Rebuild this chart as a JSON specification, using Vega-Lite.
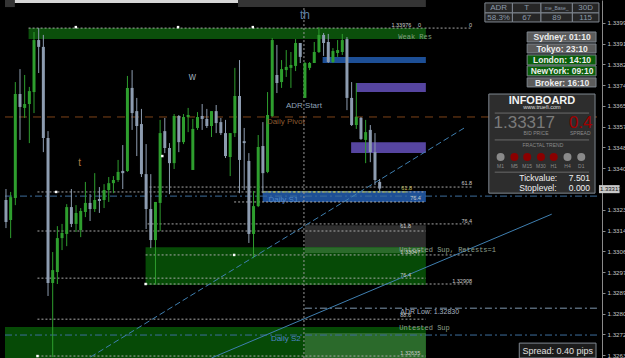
{
"$schema": "https://vega.github.io/schema/vega-lite/v6.json",
"width": 602, "height": 358,
"autosize": {"type": "none"}, "padding": {"left": 0, "top": 0, "right": 23, "bottom": 0},
"background": "#000000",
"config": {"view": {"stroke": null}, "font": "Liberation Sans"},
"resolve": {"scale": {"color": "independent"}, "axis": {"y": "independent"}},
"layer": [
{"data": {"values": [{"x1":-0.21,"x2":1.9,"p1":1.34089,"p2":1.3406,"k":"dark"},{"x1":1.9,"x2":49.68,"p1":1.34089,"p2":1.34077,"k":"light"},{"x1":49.68,"x2":89.89,"p1":1.34089,"p2":1.3406,"k":"dark"}]},
 "mark": {"type": "rect"},
 "encoding": {
  "x": {"field": "x1", "type": "quantitative", "scale": {"domain": [-0.21, 126.53], "nice": false, "zero": false}, "axis": null},
  "x2": {"field": "x2"},
  "y": {"field": "p1", "type": "quantitative", "scale": {"domain": [1.32623, 1.34089], "nice": false, "zero": false},
        "axis": {"orient": "right", "values": [1.33995,1.3391,1.33825,1.3374,1.33655,1.3357,1.33485,1.334,1.3323,1.33145,1.3306,1.32975,1.3289,1.32805,1.3272,1.32635], "format": ".5f", "labelFontSize": 6.2, "labelColor": "#c4c4c4", "domainColor": "#8a8a8a", "tickColor": "#8a8a8a", "tickSize": 3, "labelPadding": 2, "grid": false, "title": null, "labelOverlap": false, "labelBound": false, "labelFlush": false}},
  "y2": {"field": "p2"},
  "color": {"field": "k", "type": "nominal", "scale": {"domain": ["dark","light"], "range": ["#343434","#d6d6d6"]}, "legend": null}}},
{"data": {"values": [
  {"x1":4.84,"x2":89.89,"p1":1.33974,"p2":1.33929,"k":"res"},
  {"x1":67.79,"x2":89.89,"p1":1.33856,"p2":1.33831,"k":"blue"},
  {"x1":74.95,"x2":89.89,"p1":1.33749,"p2":1.33712,"k":"purple"},
  {"x1":73.89,"x2":89.89,"p1":1.33507,"p2":1.33462,"k":"purple"},
  {"x1":54.95,"x2":89.89,"p1":1.33307,"p2":1.33262,"k":"blue"},
  {"x1":64.0,"x2":89.89,"p1":1.33167,"p2":1.33077,"k":"gray"},
  {"x1":29.89,"x2":89.89,"p1":1.33077,"p2":1.32922,"k":"sup"},
  {"x1":64.0,"x2":89.89,"p1":1.33077,"p2":1.33053,"k":"suplight"},
  {"x1":-0.21,"x2":89.89,"p1":1.3275,"p2":1.32623,"k":"sup"},
  {"x1":64.0,"x2":89.89,"p1":1.32725,"p2":1.32623,"k":"suplight"}]},
 "mark": {"type": "rect"},
 "encoding": {
  "x": {"field": "x1", "type": "quantitative", "scale": {"domain": [-0.21, 126.53], "nice": false, "zero": false}, "axis": null},
  "x2": {"field": "x2"},
  "y": {"field": "p1", "type": "quantitative", "scale": {"domain": [1.32623, 1.34089], "nice": false, "zero": false}, "axis": null},
  "y2": {"field": "p2"},
  "color": {"field": "k", "type": "nominal", "scale": {"domain": ["res","blue","purple","gray","sup","suplight"], "range": ["#0b4f0b","#1d4f96","#5645a0","#2e2e2e","#064a06","#2b6a2b"]}, "legend": null}}},
{"data": {"values": [
  {"x1":4.84,"x2":99.79,"p":1.33974},{"x1":30.74,"x2":99.79,"p":1.33323},{"x1":6.74,"x2":89.89,"p":1.33303},
  {"x1":48.84,"x2":89.89,"p":1.33262},{"x1":30.32,"x2":99.79,"p":1.33172},{"x1":6.74,"x2":89.89,"p":1.33143},
  {"x1":29.89,"x2":99.79,"p":1.33045},{"x1":6.74,"x2":89.89,"p":1.3295},{"x1":29.89,"x2":99.79,"p":1.32926},
  {"x1":6.74,"x2":89.89,"p":1.32782},{"x1":6.74,"x2":89.89,"p":1.32631}]},
 "mark": {"type": "rule", "color": "#a8a8a8", "strokeDash": [2,2], "strokeWidth": 1},
 "encoding": {
  "x": {"field": "x1", "type": "quantitative", "scale": {"domain": [-0.21, 126.53], "nice": false, "zero": false}, "axis": null},
  "x2": {"field": "x2"},
  "y": {"field": "p", "type": "quantitative", "scale": {"domain": [1.32623, 1.34089], "nice": false, "zero": false}, "axis": null}}},
{"data": {"values": [{"x1":54.95,"x2":86.11,"p":1.33303}]},
 "mark": {"type": "rule", "color": "#c9cf3c", "strokeDash": [3,2], "strokeWidth": 1},
 "encoding": {
  "x": {"field": "x1", "type": "quantitative", "scale": {"domain": [-0.21, 126.53], "nice": false, "zero": false}, "axis": null},
  "x2": {"field": "x2"},
  "y": {"field": "p", "type": "quantitative", "scale": {"domain": [1.32623, 1.34089], "nice": false, "zero": false}, "axis": null}}},
{"data": {"values": [{"x1":-0.21,"x2":126.53,"p":1.3361}]},
 "mark": {"type": "rule", "color": "#7d4218", "strokeDash": [8,6], "strokeWidth": 1},
 "encoding": {
  "x": {"field": "x1", "type": "quantitative", "scale": {"domain": [-0.21, 126.53], "nice": false, "zero": false}, "axis": null},
  "x2": {"field": "x2"},
  "y": {"field": "p", "type": "quantitative", "scale": {"domain": [1.32623, 1.34089], "nice": false, "zero": false}, "axis": null}}},
{"data": {"values": [{"x1":-0.21,"x2":126.53,"p":1.33286},{"x1":-0.21,"x2":126.53,"p":1.32717}]},
 "mark": {"type": "rule", "color": "#3d6e9c", "strokeDash": [7,3,2,3], "strokeWidth": 1},
 "encoding": {
  "x": {"field": "x1", "type": "quantitative", "scale": {"domain": [-0.21, 126.53], "nice": false, "zero": false}, "axis": null},
  "x2": {"field": "x2"},
  "y": {"field": "p", "type": "quantitative", "scale": {"domain": [1.32623, 1.34089], "nice": false, "zero": false}, "axis": null}}},
{"data": {"values": [{"x1":64.0,"x2":126.53,"p":1.32827}]},
 "mark": {"type": "rule", "color": "#7e98b0", "strokeDash": [7,3,2,3], "strokeWidth": 1},
 "encoding": {
  "x": {"field": "x1", "type": "quantitative", "scale": {"domain": [-0.21, 126.53], "nice": false, "zero": false}, "axis": null},
  "x2": {"field": "x2"},
  "y": {"field": "p", "type": "quantitative", "scale": {"domain": [1.32623, 1.34089], "nice": false, "zero": false}, "axis": null}}},
{"data": {"values": [{"x":63.79,"p1":1.34056,"p2":1.32623}]},
 "mark": {"type": "rule", "color": "#9a9a9a", "strokeDash": [2,2], "strokeWidth": 1},
 "encoding": {
  "x": {"field": "x", "type": "quantitative", "scale": {"domain": [-0.21, 126.53], "nice": false, "zero": false}, "axis": null},
  "y": {"field": "p1", "type": "quantitative", "scale": {"domain": [1.32623, 1.34089], "nice": false, "zero": false}, "axis": null},
  "y2": {"field": "p2"}}},
{"data": {"values": [{"x1":18.11,"p1":1.32627,"x2":98.11,"p2":1.33565}]},
 "mark": {"type": "rule", "color": "#3f7fb0", "strokeDash": [6,3], "strokeWidth": 1},
 "encoding": {
  "x": {"field": "x1", "type": "quantitative", "scale": {"domain": [-0.21, 126.53], "nice": false, "zero": false}, "axis": null},
  "x2": {"field": "x2"},
  "y": {"field": "p1", "type": "quantitative", "scale": {"domain": [1.32623, 1.34089], "nice": false, "zero": false}, "axis": null},
  "y2": {"field": "p2"}}},
{"data": {"values": [{"x1":44.0,"p1":1.32623,"x2":116.84,"p2":1.33212}]},
 "mark": {"type": "rule", "color": "#3f7fb0", "strokeWidth": 1},
 "encoding": {
  "x": {"field": "x1", "type": "quantitative", "scale": {"domain": [-0.21, 126.53], "nice": false, "zero": false}, "axis": null},
  "x2": {"field": "x2"},
  "y": {"field": "p1", "type": "quantitative", "scale": {"domain": [1.32623, 1.34089], "nice": false, "zero": false}, "axis": null},
  "y2": {"field": "p2"}}},
{"data": {"name": "candles"},
 "mark": {"type": "rule", "strokeWidth": 1},
 "encoding": {
  "x": {"field": "i", "type": "quantitative", "scale": {"domain": [-0.21, 126.53], "nice": false, "zero": false}, "axis": null},
  "y": {"field": "l", "type": "quantitative", "scale": {"domain": [1.32623, 1.34089], "nice": false, "zero": false}, "axis": null},
  "y2": {"field": "h"},
  "color": {"field": "d", "type": "nominal", "scale": {"domain": ["u","d"], "range": ["#2e9e2e","#8d9cb0"]}, "legend": null}}},
{"data": {"name": "candles"},
 "mark": {"type": "bar", "width": 3},
 "encoding": {
  "x": {"field": "i", "type": "quantitative", "scale": {"domain": [-0.21, 126.53], "nice": false, "zero": false}, "axis": null},
  "y": {"field": "o", "type": "quantitative", "scale": {"domain": [1.32623, 1.34089], "nice": false, "zero": false}, "axis": null},
  "y2": {"field": "c"},
  "color": {"field": "d", "type": "nominal", "scale": {"domain": ["u","d"], "range": ["#2e9e2e","#8d9cb0"]}, "legend": null}}},
{"data": {"values": [{"x":14.95,"p":1.33978},{"x":36.84,"p":1.33978},{"x":52.84,"p":1.33978},{"x":10.74,"p":1.33303},{"x":6.74,"p":1.32631},{"x":33.47,"p":1.3345},{"x":48.84,"p":1.33045},{"x":29.89,"p":1.32926}]},
 "mark": {"type": "point", "shape": "square", "filled": true, "size": 6, "color": "#ffffff", "opacity": 1},
 "encoding": {
  "x": {"field": "x", "type": "quantitative", "scale": {"domain": [-0.21, 126.53], "nice": false, "zero": false}, "axis": null},
  "y": {"field": "p", "type": "quantitative", "scale": {"domain": [1.32623, 1.34089], "nice": false, "zero": false}, "axis": null}}},
{"data": {"values": [{"x":64.0,"p":1.34028,"t":"th"}]},
 "mark": {"type": "text", "fontSize": 12, "color": "#5a7fa5", "align": "center", "baseline": "middle"},
 "encoding": {
  "x": {"field": "x", "type": "quantitative", "scale": {"domain": [-0.21, 126.53], "nice": false, "zero": false}, "axis": null},
  "y": {"field": "p", "type": "quantitative", "scale": {"domain": [1.32623, 1.34089], "nice": false, "zero": false}, "axis": null},
  "text": {"field": "t"}}},
{"data": {"values": [{"x":39.9,"p":1.33774,"t":"w"}]},
 "mark": {"type": "text", "fontSize": 10, "color": "#9aa8b8", "align": "center", "baseline": "middle"},
 "encoding": {
  "x": {"field": "x", "type": "quantitative", "scale": {"domain": [-0.21, 126.53], "nice": false, "zero": false}, "axis": null},
  "y": {"field": "p", "type": "quantitative", "scale": {"domain": [1.32623, 1.34089], "nice": false, "zero": false}, "axis": null},
  "text": {"field": "t"}}},
{"data": {"values": [{"x":15.79,"p":1.33421,"t":"t"}]},
 "mark": {"type": "text", "fontSize": 10, "color": "#b07a40", "align": "center", "baseline": "middle"},
 "encoding": {
  "x": {"field": "x", "type": "quantitative", "scale": {"domain": [-0.21, 126.53], "nice": false, "zero": false}, "axis": null},
  "y": {"field": "p", "type": "quantitative", "scale": {"domain": [1.32623, 1.34089], "nice": false, "zero": false}, "axis": null},
  "text": {"field": "t"}}},
{"data": {"values": [{"x":63.79,"p":1.33655,"t":"ADR Start"}]},
 "mark": {"type": "text", "fontSize": 8, "color": "#8ea2b8", "align": "center", "baseline": "middle"},
 "encoding": {
  "x": {"field": "x", "type": "quantitative", "scale": {"domain": [-0.21, 126.53], "nice": false, "zero": false}, "axis": null},
  "y": {"field": "p", "type": "quantitative", "scale": {"domain": [1.32623, 1.34089], "nice": false, "zero": false}, "axis": null},
  "text": {"field": "t"}}},
{"data": {"values": [{"x":59.9,"p":1.33589,"t":"Daily Pivot"}]},
 "mark": {"type": "text", "fontSize": 8, "color": "#8b5a30", "align": "center", "baseline": "middle"},
 "encoding": {
  "x": {"field": "x", "type": "quantitative", "scale": {"domain": [-0.21, 126.53], "nice": false, "zero": false}, "axis": null},
  "y": {"field": "p", "type": "quantitative", "scale": {"domain": [1.32623, 1.34089], "nice": false, "zero": false}, "axis": null},
  "text": {"field": "t"}}},
{"data": {"values": [{"x":59.4,"p":1.3327,"t":"Daily S1"},{"x":59.9,"p":1.327,"t":"Daily S2"}]},
 "mark": {"type": "text", "fontSize": 8, "color": "#4f86c6", "align": "center", "baseline": "middle"},
 "encoding": {
  "x": {"field": "x", "type": "quantitative", "scale": {"domain": [-0.21, 126.53], "nice": false, "zero": false}, "axis": null},
  "y": {"field": "p", "type": "quantitative", "scale": {"domain": [1.32623, 1.34089], "nice": false, "zero": false}, "axis": null},
  "text": {"field": "t"}}},
{"data": {"values": [{"x":84.0,"p":1.33937,"t":"Weak Res"}]},
 "mark": {"type": "text", "fontSize": 7, "font": "Liberation Mono", "color": "#7fa07f", "align": "left", "baseline": "middle"},
 "encoding": {
  "x": {"field": "x", "type": "quantitative", "scale": {"domain": [-0.21, 126.53], "nice": false, "zero": false}, "axis": null},
  "y": {"field": "p", "type": "quantitative", "scale": {"domain": [1.32623, 1.34089], "nice": false, "zero": false}, "axis": null},
  "text": {"field": "t"}}},
{"data": {"values": [{"x":84.21,"p":1.33067,"t":"Untested Sup, Retests=1"},{"x":84.21,"p":1.32746,"t":"Untested Sup"}]},
 "mark": {"type": "text", "fontSize": 7, "font": "Liberation Mono", "color": "#8fa08f", "align": "left", "baseline": "middle"},
 "encoding": {
  "x": {"field": "x", "type": "quantitative", "scale": {"domain": [-0.21, 126.53], "nice": false, "zero": false}, "axis": null},
  "y": {"field": "p", "type": "quantitative", "scale": {"domain": [1.32623, 1.34089], "nice": false, "zero": false}, "axis": null},
  "text": {"field": "t"}}},
{"data": {"values": [{"x":82.53,"p":1.33987,"t":"1.33976"},{"x":88.21,"p":1.33987,"t":"0"},{"x":86.53,"p":1.33278,"t":"76.4"},{"x":84.42,"p":1.33163,"t":"61.8"},{"x":84.42,"p":1.33057,"t":"1.33047"},{"x":84.42,"p":1.32963,"t":"76.4"},{"x":84.42,"p":1.32799,"t":"88.6"},{"x":84.42,"p":1.32643,"t":"1.32635"}]},
 "mark": {"type": "text", "fontSize": 5.5, "color": "#cccccc", "align": "left", "baseline": "middle"},
 "encoding": {
  "x": {"field": "x", "type": "quantitative", "scale": {"domain": [-0.21, 126.53], "nice": false, "zero": false}, "axis": null},
  "y": {"field": "p", "type": "quantitative", "scale": {"domain": [1.32623, 1.34089], "nice": false, "zero": false}, "axis": null},
  "text": {"field": "t"}}},
{"data": {"values": [{"x":99.79,"p":1.33987,"t":"0"},{"x":99.79,"p":1.33339,"t":"61.8"},{"x":99.79,"p":1.33184,"t":"76.4"},{"x":99.79,"p":1.32938,"t":"1.32908"}]},
 "mark": {"type": "text", "fontSize": 5.5, "color": "#cccccc", "align": "right", "baseline": "middle"},
 "encoding": {
  "x": {"field": "x", "type": "quantitative", "scale": {"domain": [-0.21, 126.53], "nice": false, "zero": false}, "axis": null},
  "y": {"field": "p", "type": "quantitative", "scale": {"domain": [1.32623, 1.34089], "nice": false, "zero": false}, "axis": null},
  "text": {"field": "t"}}},
{"data": {"values": [{"x":84.63,"p":1.33319,"t":"61.8"}]},
 "mark": {"type": "text", "fontSize": 5.5, "color": "#c8c060", "align": "left", "baseline": "middle"},
 "encoding": {
  "x": {"field": "x", "type": "quantitative", "scale": {"domain": [-0.21, 126.53], "nice": false, "zero": false}, "axis": null},
  "y": {"field": "p", "type": "quantitative", "scale": {"domain": [1.32623, 1.34089], "nice": false, "zero": false}, "axis": null},
  "text": {"field": "t"}}},
{"data": {"values": [{"x":84.42,"p":1.32811,"t":"ADR Low: 1.32830"}]},
 "mark": {"type": "text", "fontSize": 7, "color": "#a8b4c0", "align": "left", "baseline": "middle"},
 "encoding": {
  "x": {"field": "x", "type": "quantitative", "scale": {"domain": [-0.21, 126.53], "nice": false, "zero": false}, "axis": null},
  "y": {"field": "p", "type": "quantitative", "scale": {"domain": [1.32623, 1.34089], "nice": false, "zero": false}, "axis": null},
  "text": {"field": "t"}}},
{"data": {"values": [
  {"x1":102.53,"x2":108.42,"p1":1.34077,"p2":1.34036,"k":"cell"},{"x1":108.42,"x2":114.53,"p1":1.34077,"p2":1.34036,"k":"cell"},{"x1":114.53,"x2":121.26,"p1":1.34077,"p2":1.34036,"k":"cell"},{"x1":121.26,"x2":126.95,"p1":1.34077,"p2":1.34036,"k":"cell"},
  {"x1":102.53,"x2":108.42,"p1":1.34036,"p2":1.33999,"k":"cell"},{"x1":108.42,"x2":114.53,"p1":1.34036,"p2":1.33999,"k":"cell"},{"x1":114.53,"x2":121.26,"p1":1.34036,"p2":1.33999,"k":"cell"},{"x1":121.26,"x2":126.95,"p1":1.34036,"p2":1.33999,"k":"cell"},
  {"x1":111.58,"x2":126.32,"p1":1.33958,"p2":1.33917,"k":"sgray"},{"x1":111.58,"x2":126.32,"p1":1.33909,"p2":1.33872,"k":"sgray"},{"x1":111.58,"x2":126.32,"p1":1.33864,"p2":1.33823,"k":"sgreen"},{"x1":111.58,"x2":126.32,"p1":1.33819,"p2":1.33778,"k":"sgreen"},{"x1":111.58,"x2":126.32,"p1":1.3377,"p2":1.33733,"k":"sgray"},
  {"x1":103.37,"x2":126.11,"p1":1.33704,"p2":1.33298,"k":"info"},
  {"x1":109.89,"x2":126.32,"p1":1.32684,"p2":1.32623,"k":"spread"}]},
 "mark": {"type": "rect", "stroke": "#7f8790", "strokeWidth": 1},
 "encoding": {
  "x": {"field": "x1", "type": "quantitative", "scale": {"domain": [-0.21, 126.53], "nice": false, "zero": false}, "axis": null},
  "x2": {"field": "x2"},
  "y": {"field": "p1", "type": "quantitative", "scale": {"domain": [1.32623, 1.34089], "nice": false, "zero": false}, "axis": null},
  "y2": {"field": "p2"},
  "color": {"field": "k", "type": "nominal", "scale": {"domain": ["cell","sgray","sgreen","info","spread"], "range": ["#262626","#5c5c5c","#0a5f0a","#2d2d2d","#1c1c1c"]}, "legend": null}}},
{"data": {"values": [{"x1":126.95,"x2":131.37,"p1":1.33331,"p2":1.33298}]},
 "mark": {"type": "rect", "color": "#c8c8c8"},
 "encoding": {
  "x": {"field": "x1", "type": "quantitative", "scale": {"domain": [-0.21, 126.53], "nice": false, "zero": false}, "axis": null},
  "x2": {"field": "x2"},
  "y": {"field": "p1", "type": "quantitative", "scale": {"domain": [1.32623, 1.34089], "nice": false, "zero": false}, "axis": null},
  "y2": {"field": "p2"}}},
{"data": {"values": [{"x1":104.63,"x2":124.84,"p":1.33626},{"x1":104.63,"x2":124.84,"p":1.33516},{"x1":104.63,"x2":124.84,"p":1.33384}]},
 "mark": {"type": "rule", "color": "#6a6a6a", "strokeWidth": 1},
 "encoding": {
  "x": {"field": "x1", "type": "quantitative", "scale": {"domain": [-0.21, 126.53], "nice": false, "zero": false}, "axis": null},
  "x2": {"field": "x2"},
  "y": {"field": "p", "type": "quantitative", "scale": {"domain": [1.32623, 1.34089], "nice": false, "zero": false}, "axis": null}}},
{"data": {"values": [{"x":105.89,"p":1.33446},{"x":120.21,"p":1.33446},{"x":123.16,"p":1.33446}]},
 "mark": {"type": "point", "shape": "circle", "filled": true, "size": 64, "color": "#8a8a8a", "opacity": 1},
 "encoding": {
  "x": {"field": "x", "type": "quantitative", "scale": {"domain": [-0.21, 126.53], "nice": false, "zero": false}, "axis": null},
  "y": {"field": "p", "type": "quantitative", "scale": {"domain": [1.32623, 1.34089], "nice": false, "zero": false}, "axis": null}}},
{"data": {"values": [{"x":108.84,"p":1.33446},{"x":111.58,"p":1.33446},{"x":114.53,"p":1.33446},{"x":117.26,"p":1.33446}]},
 "mark": {"type": "point", "shape": "circle", "filled": true, "size": 64, "color": "#8b0000", "opacity": 1},
 "encoding": {
  "x": {"field": "x", "type": "quantitative", "scale": {"domain": [-0.21, 126.53], "nice": false, "zero": false}, "axis": null},
  "y": {"field": "p", "type": "quantitative", "scale": {"domain": [1.32623, 1.34089], "nice": false, "zero": false}, "axis": null}}},
{"data": {"values": [{"x":105.47,"p":1.34056,"t":"ADR"},{"x":111.47,"p":1.34056,"t":"T"},{"x":124.1,"p":1.34056,"t":"30D"},{"x":105.47,"p":1.34017,"t":"58.3%"},{"x":111.47,"p":1.34017,"t":"67"},{"x":117.9,"p":1.34017,"t":"89"},{"x":124.1,"p":1.34017,"t":"115"}]},
 "mark": {"type": "text", "fontSize": 8, "color": "#8b99aa", "align": "center", "baseline": "middle"},
 "encoding": {
  "x": {"field": "x", "type": "quantitative", "scale": {"domain": [-0.21, 126.53], "nice": false, "zero": false}, "axis": null},
  "y": {"field": "p", "type": "quantitative", "scale": {"domain": [1.32623, 1.34089], "nice": false, "zero": false}, "axis": null},
  "text": {"field": "t"}}},
{"data": {"values": [{"x":117.9,"p":1.34056,"t":"me_Base_"}]},
 "mark": {"type": "text", "fontSize": 5, "color": "#8b99aa", "align": "center", "baseline": "middle"},
 "encoding": {
  "x": {"field": "x", "type": "quantitative", "scale": {"domain": [-0.21, 126.53], "nice": false, "zero": false}, "axis": null},
  "y": {"field": "p", "type": "quantitative", "scale": {"domain": [1.32623, 1.34089], "nice": false, "zero": false}, "axis": null},
  "text": {"field": "t"}}},
{"data": {"values": [{"x":119.05,"p":1.33937,"t":"Sydney: 01:10"},{"x":119.05,"p":1.3389,"t":"Tokyo: 23:10"},{"x":119.05,"p":1.33843,"t":"London: 14:10"},{"x":119.05,"p":1.33798,"t":"NewYork: 09:10"},{"x":119.05,"p":1.33751,"t":"Broker: 16:10"}]},
 "mark": {"type": "text", "fontSize": 8.5, "fontWeight": "bold", "color": "#ececec", "align": "center", "baseline": "middle"},
 "encoding": {
  "x": {"field": "x", "type": "quantitative", "scale": {"domain": [-0.21, 126.53], "nice": false, "zero": false}, "axis": null},
  "y": {"field": "p", "type": "quantitative", "scale": {"domain": [1.32623, 1.34089], "nice": false, "zero": false}, "axis": null},
  "text": {"field": "t"}}},
{"data": {"values": [{"x":114.74,"p":1.33675,"t":"INFOBOARD"}]},
 "mark": {"type": "text", "fontSize": 11, "fontWeight": "bold", "color": "#f2f2f2", "align": "center", "baseline": "middle"},
 "encoding": {
  "x": {"field": "x", "type": "quantitative", "scale": {"domain": [-0.21, 126.53], "nice": false, "zero": false}, "axis": null},
  "y": {"field": "p", "type": "quantitative", "scale": {"domain": [1.32623, 1.34089], "nice": false, "zero": false}, "axis": null},
  "text": {"field": "t"}}},
{"data": {"values": [{"x":114.74,"p":1.33649,"t":"www.truefi.com"}]},
 "mark": {"type": "text", "fontSize": 5.5, "color": "#dddddd", "align": "center", "baseline": "middle"},
 "encoding": {
  "x": {"field": "x", "type": "quantitative", "scale": {"domain": [-0.21, 126.53], "nice": false, "zero": false}, "axis": null},
  "y": {"field": "p", "type": "quantitative", "scale": {"domain": [1.32623, 1.34089], "nice": false, "zero": false}, "axis": null},
  "text": {"field": "t"}}},
{"data": {"values": [{"x":110.95,"p":1.33585,"t":"1.33317"}]},
 "mark": {"type": "text", "fontSize": 17, "color": "#7a7a7a", "align": "center", "baseline": "middle"},
 "encoding": {
  "x": {"field": "x", "type": "quantitative", "scale": {"domain": [-0.21, 126.53], "nice": false, "zero": false}, "axis": null},
  "y": {"field": "p", "type": "quantitative", "scale": {"domain": [1.32623, 1.34089], "nice": false, "zero": false}, "axis": null},
  "text": {"field": "t"}}},
{"data": {"values": [{"x":123.05,"p":1.33585,"t":"0.4"}]},
 "mark": {"type": "text", "fontSize": 17, "color": "#a00000", "align": "center", "baseline": "middle"},
 "encoding": {
  "x": {"field": "x", "type": "quantitative", "scale": {"domain": [-0.21, 126.53], "nice": false, "zero": false}, "axis": null},
  "y": {"field": "p", "type": "quantitative", "scale": {"domain": [1.32623, 1.34089], "nice": false, "zero": false}, "axis": null},
  "text": {"field": "t"}}},
{"data": {"values": [{"x":113.47,"p":1.33544,"t":"BID PRICE"},{"x":122.95,"p":1.33544,"t":"SPREAD"},{"x":114.95,"p":1.33495,"t":"FRACTAL TREND"},{"x":105.89,"p":1.33409,"t":"M1"},{"x":108.84,"p":1.33409,"t":"M5"},{"x":111.58,"p":1.33409,"t":"M15"},{"x":114.53,"p":1.33409,"t":"M30"},{"x":117.26,"p":1.33409,"t":"H1"},{"x":120.21,"p":1.33409,"t":"H4"},{"x":123.16,"p":1.33409,"t":"D1"}]},
 "mark": {"type": "text", "fontSize": 5, "color": "#8a8a8a", "align": "center", "baseline": "middle"},
 "encoding": {
  "x": {"field": "x", "type": "quantitative", "scale": {"domain": [-0.21, 126.53], "nice": false, "zero": false}, "axis": null},
  "y": {"field": "p", "type": "quantitative", "scale": {"domain": [1.32623, 1.34089], "nice": false, "zero": false}, "axis": null},
  "text": {"field": "t"}}},
{"data": {"values": [{"x":109.89,"p":1.3336,"t":"Tickvalue:"},{"x":109.89,"p":1.33319,"t":"Stoplevel:"}]},
 "mark": {"type": "text", "fontSize": 8.5, "color": "#f0f0f0", "align": "left", "baseline": "middle"},
 "encoding": {
  "x": {"field": "x", "type": "quantitative", "scale": {"domain": [-0.21, 126.53], "nice": false, "zero": false}, "axis": null},
  "y": {"field": "p", "type": "quantitative", "scale": {"domain": [1.32623, 1.34089], "nice": false, "zero": false}, "axis": null},
  "text": {"field": "t"}}},
{"data": {"values": [{"x":125.05,"p":1.3336,"t":"7.501"},{"x":125.05,"p":1.33319,"t":"0.000"}]},
 "mark": {"type": "text", "fontSize": 8.5, "color": "#f0f0f0", "align": "right", "baseline": "middle"},
 "encoding": {
  "x": {"field": "x", "type": "quantitative", "scale": {"domain": [-0.21, 126.53], "nice": false, "zero": false}, "axis": null},
  "y": {"field": "p", "type": "quantitative", "scale": {"domain": [1.32623, 1.34089], "nice": false, "zero": false}, "axis": null},
  "text": {"field": "t"}}},
{"data": {"values": [{"x":118.11,"p":1.32652,"t":"Spread: 0.40 pips"}]},
 "mark": {"type": "text", "fontSize": 9, "color": "#e0e0e0", "align": "center", "baseline": "middle"},
 "encoding": {
  "x": {"field": "x", "type": "quantitative", "scale": {"domain": [-0.21, 126.53], "nice": false, "zero": false}, "axis": null},
  "y": {"field": "p", "type": "quantitative", "scale": {"domain": [1.32623, 1.34089], "nice": false, "zero": false}, "axis": null},
  "text": {"field": "t"}}},
{"data": {"values": [{"x":127.16,"p":1.33315,"t":"1.33317"}]},
 "mark": {"type": "text", "fontSize": 6, "color": "#111111", "align": "left", "baseline": "middle"},
 "encoding": {
  "x": {"field": "x", "type": "quantitative", "scale": {"domain": [-0.21, 126.53], "nice": false, "zero": false}, "axis": null},
  "y": {"field": "p", "type": "quantitative", "scale": {"domain": [1.32623, 1.34089], "nice": false, "zero": false}, "axis": null},
  "text": {"field": "t"}}}
],
"datasets": {
"candles": [
{"i":0,"o":1.3327,"h":1.33315,"l":1.33155,"c":1.3318,"d":"d"},
{"i":1,"o":1.33188,"h":1.33303,"l":1.33114,"c":1.33282,"d":"u"},
{"i":2,"o":1.33278,"h":1.33753,"l":1.33249,"c":1.33704,"d":"u"},
{"i":3,"o":1.33704,"h":1.33806,"l":1.33516,"c":1.33651,"d":"d"},
{"i":4,"o":1.33647,"h":1.33782,"l":1.33606,"c":1.33663,"d":"u"},
{"i":5,"o":1.33663,"h":1.33733,"l":1.33503,"c":1.33716,"d":"u"},
{"i":6,"o":1.33712,"h":1.33958,"l":1.33626,"c":1.33925,"d":"u"},
{"i":7,"o":1.33925,"h":1.33974,"l":1.3379,"c":1.33897,"d":"d"},
{"i":8,"o":1.33897,"h":1.33946,"l":1.33466,"c":1.33524,"d":"d"},
{"i":9,"o":1.33524,"h":1.33552,"l":1.32877,"c":1.3293,"d":"d"},
{"i":10,"o":1.3293,"h":1.33057,"l":1.32627,"c":1.32983,"d":"u"},
{"i":11,"o":1.32975,"h":1.33163,"l":1.32926,"c":1.33114,"d":"u"},
{"i":12,"o":1.33114,"h":1.33172,"l":1.33065,"c":1.33135,"d":"u"},
{"i":13,"o":1.33131,"h":1.33253,"l":1.33081,"c":1.33241,"d":"u"},
{"i":14,"o":1.33241,"h":1.33315,"l":1.33159,"c":1.33172,"d":"d"},
{"i":15,"o":1.33172,"h":1.33249,"l":1.33139,"c":1.33217,"d":"u"},
{"i":16,"o":1.33147,"h":1.33237,"l":1.33118,"c":1.33225,"d":"u"},
{"i":17,"o":1.33221,"h":1.33344,"l":1.332,"c":1.33258,"d":"u"},
{"i":18,"o":1.33258,"h":1.33294,"l":1.33184,"c":1.33233,"d":"d"},
{"i":19,"o":1.33233,"h":1.3338,"l":1.33221,"c":1.3327,"d":"u"},
{"i":20,"o":1.33274,"h":1.33323,"l":1.33217,"c":1.33266,"d":"d"},
{"i":21,"o":1.3327,"h":1.33335,"l":1.33237,"c":1.33311,"d":"u"},
{"i":22,"o":1.33311,"h":1.33364,"l":1.33262,"c":1.33339,"d":"u"},
{"i":23,"o":1.33339,"h":1.33368,"l":1.33298,"c":1.33352,"d":"u"},
{"i":24,"o":1.33352,"h":1.33434,"l":1.33344,"c":1.33385,"d":"u"},
{"i":25,"o":1.33389,"h":1.33495,"l":1.33315,"c":1.3338,"d":"d"},
{"i":26,"o":1.33389,"h":1.33778,"l":1.33385,"c":1.33729,"d":"u"},
{"i":27,"o":1.33729,"h":1.33802,"l":1.33557,"c":1.33626,"d":"d"},
{"i":28,"o":1.33634,"h":1.33688,"l":1.3345,"c":1.33573,"d":"d"},
{"i":29,"o":1.33581,"h":1.33643,"l":1.33364,"c":1.33376,"d":"d"},
{"i":30,"o":1.33376,"h":1.33499,"l":1.33151,"c":1.33233,"d":"d"},
{"i":31,"o":1.33233,"h":1.33376,"l":1.33073,"c":1.33106,"d":"d"},
{"i":32,"o":1.33106,"h":1.33262,"l":1.32926,"c":1.33262,"d":"u"},
{"i":33,"o":1.33258,"h":1.33598,"l":1.33143,"c":1.33544,"d":"u"},
{"i":34,"o":1.33552,"h":1.33606,"l":1.33462,"c":1.33483,"d":"d"},
{"i":35,"o":1.33483,"h":1.33503,"l":1.33294,"c":1.33421,"d":"d"},
{"i":36,"o":1.33421,"h":1.33622,"l":1.33397,"c":1.33614,"d":"u"},
{"i":37,"o":1.33614,"h":1.33618,"l":1.33466,"c":1.33507,"d":"d"},
{"i":38,"o":1.33507,"h":1.33622,"l":1.33499,"c":1.3361,"d":"u"},
{"i":39,"o":1.3361,"h":1.33647,"l":1.33548,"c":1.33618,"d":"u"},
{"i":40,"o":1.33393,"h":1.33602,"l":1.33393,"c":1.33561,"d":"u"},
{"i":41,"o":1.33565,"h":1.3363,"l":1.33557,"c":1.3361,"d":"u"},
{"i":42,"o":1.33614,"h":1.33663,"l":1.33557,"c":1.33602,"d":"d"},
{"i":43,"o":1.33602,"h":1.33643,"l":1.33565,"c":1.33573,"d":"d"},
{"i":44,"o":1.33573,"h":1.33634,"l":1.33528,"c":1.33634,"d":"u"},
{"i":45,"o":1.33634,"h":1.33659,"l":1.33544,"c":1.33585,"d":"d"},
{"i":46,"o":1.33589,"h":1.33606,"l":1.33536,"c":1.33544,"d":"d"},
{"i":47,"o":1.33544,"h":1.33598,"l":1.33442,"c":1.3345,"d":"d"},
{"i":48,"o":1.33446,"h":1.33544,"l":1.33368,"c":1.33544,"d":"u"},
{"i":49,"o":1.33544,"h":1.33811,"l":1.33528,"c":1.33696,"d":"u"},
{"i":50,"o":1.33696,"h":1.33843,"l":1.33298,"c":1.33434,"d":"d"},
{"i":51,"o":1.33511,"h":1.33565,"l":1.33311,"c":1.33503,"d":"d"},
{"i":52,"o":1.3343,"h":1.33462,"l":1.33094,"c":1.33131,"d":"d"},
{"i":53,"o":1.33131,"h":1.33307,"l":1.33032,"c":1.33245,"d":"u"},
{"i":54,"o":1.33245,"h":1.33536,"l":1.33241,"c":1.33487,"d":"u"},
{"i":55,"o":1.33491,"h":1.33589,"l":1.33298,"c":1.3338,"d":"d"},
{"i":56,"o":1.33385,"h":1.33712,"l":1.3338,"c":1.33618,"d":"u"},
{"i":57,"o":1.33614,"h":1.33933,"l":1.3361,"c":1.33925,"d":"u"},
{"i":58,"o":1.33782,"h":1.33905,"l":1.33708,"c":1.33749,"d":"d"},
{"i":59,"o":1.33753,"h":1.33843,"l":1.33729,"c":1.33806,"d":"u"},
{"i":60,"o":1.33802,"h":1.33884,"l":1.33774,"c":1.33815,"d":"u"},
{"i":61,"o":1.33811,"h":1.33876,"l":1.33729,"c":1.33823,"d":"u"},
{"i":62,"o":1.33819,"h":1.33929,"l":1.33798,"c":1.33913,"d":"u"},
{"i":63,"o":1.33913,"h":1.33913,"l":1.33831,"c":1.33856,"d":"d"},
{"i":64,"o":1.33688,"h":1.33835,"l":1.33688,"c":1.33831,"d":"u"},
{"i":65,"o":1.33811,"h":1.33835,"l":1.33802,"c":1.33831,"d":"u"},
{"i":66,"o":1.33831,"h":1.33917,"l":1.33831,"c":1.33876,"d":"u"},
{"i":67,"o":1.33876,"h":1.33978,"l":1.33872,"c":1.33946,"d":"u"},
{"i":68,"o":1.33946,"h":1.33954,"l":1.3386,"c":1.33913,"d":"d"},
{"i":69,"o":1.33917,"h":1.3395,"l":1.33831,"c":1.33835,"d":"d"},
{"i":70,"o":1.33835,"h":1.33892,"l":1.33831,"c":1.3388,"d":"u"},
{"i":71,"o":1.33872,"h":1.33925,"l":1.33856,"c":1.33884,"d":"u"},
{"i":72,"o":1.33876,"h":1.3395,"l":1.33864,"c":1.33925,"d":"u"},
{"i":73,"o":1.33929,"h":1.33937,"l":1.33638,"c":1.33688,"d":"d"},
{"i":74,"o":1.33688,"h":1.33753,"l":1.33573,"c":1.33577,"d":"d"},
{"i":75,"o":1.33577,"h":1.33749,"l":1.33561,"c":1.3361,"d":"u"},
{"i":76,"o":1.33606,"h":1.3361,"l":1.33516,"c":1.3352,"d":"d"},
{"i":77,"o":1.33516,"h":1.33598,"l":1.33421,"c":1.33548,"d":"u"},
{"i":78,"o":1.33557,"h":1.33577,"l":1.33425,"c":1.33466,"d":"d"},
{"i":79,"o":1.33466,"h":1.33544,"l":1.33331,"c":1.33352,"d":"d"},
{"i":80,"o":1.33344,"h":1.33356,"l":1.33307,"c":1.33317,"d":"d"}
]
}
}
